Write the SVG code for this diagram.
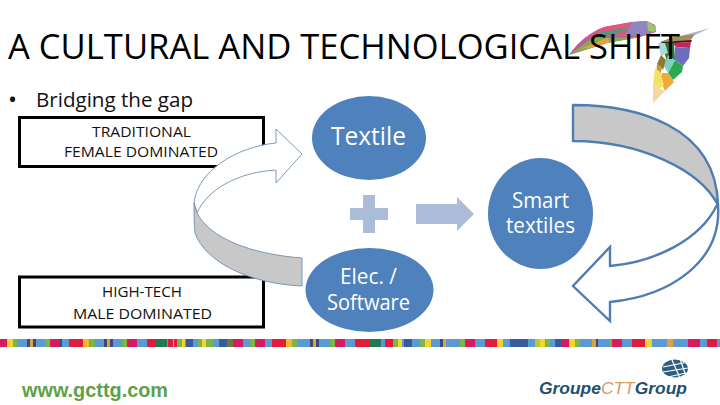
<svg xmlns="http://www.w3.org/2000/svg" width="720" height="405" viewBox="0 0 720 405">
<style>
text{font-family:"Open Sans","Noto Sans","Liberation Sans",sans-serif}
.box{fill:#fff;stroke:#000;stroke-width:3}
.bl{font-size:15px;fill:#111}
.circ{fill:#4f81bd}
.ct{font-size:21px;fill:#fff}
.band{fill:#c8c8c8;stroke-linejoin:round}
.ar{fill:#fff;stroke-linejoin:miter}
.thick{stroke:#4f7cb3;stroke-width:2.4}
.thin{stroke:#6f8fb0;stroke-width:.9}
.pale{fill:#abbcd8}
</style>
<rect width="720" height="405" fill="#fff"/>
<g id="swoosh">
<path d="M569 55C578 42 590 32 604 27L632 22 647 21 655 25 656 32 640 37 607 43Z" fill="#c25a9a"/>
<path d="M569 55L592 38 640 37 607 43Z" fill="#7fae4e"/>
<path d="M592 35L604 27 632 22 625 36Z" fill="#e0567f"/>
<path d="M632 22L647 21 656 27 650 35 625 36Z" fill="#8f86c0"/>
<path d="M647 21L656 27 655 32 648 31Z" fill="#9cc46a"/>
<path d="M580 49L607 38 610 42 590 48Z" fill="#e8a13c"/>
<path d="M597 33L625 28 627 31 600 37Z" fill="#4f9a7a"/>
<path d="M710 28L673 38 660 42 672 41 695 35Z" fill="#b7b3d2"/>
<path d="M660 42L673 37 695 34 690 41 672 41Z" fill="#a88c55"/>
<path d="M660 42L692 40 691 42 665 44Z" fill="#2c2a22"/>
<path d="M672 43L691 42 690 48 676 47Z" fill="#c7245e"/>
<path d="M675 47L690 48 689 58 683 66 675 60Z" fill="#6a6fc0"/>
<path d="M675 60L683 66 682 72 673 80 668 73Z" fill="#2ea84f"/>
<path d="M662 43L674 43 675 60 667 62Z" fill="#2f6e3d"/>
<path d="M658 43L665 43 668 53 661 56Z" fill="#a7dcd6"/>
<path d="M668 55L675 60 668 73 664 66Z" fill="#7fcfc4"/>
<path d="M661 55L666 60 663 70 657 64Z" fill="#8c7a34"/>
<path d="M657 64L662 67 660 76 656 74Z" fill="#c69a3b"/>
<path d="M662 73L668 73 674 82 665 91 660 80Z" fill="#f2a83a"/>
<path d="M655 68L660 72 664 85 660 89 653 85Z" fill="#f4e267"/>
<path d="M653 85L660 89 665 91 653 103Z" fill="#f6d7a0"/>
</g>
<g id="title">
<text x="8" y="59" font-size="35" fill="#000" textLength="672" lengthAdjust="spacingAndGlyphs">A CULTURAL AND TECHNOLOGICAL SHIFT</text>
</g>
<g id="bullet">
<text x="8" y="108" font-size="24" fill="#111">•</text>
<text x="36" y="107" font-size="20.500" fill="#111" textLength="157" lengthAdjust="spacingAndGlyphs">Bridging the gap</text>
</g>
<g id="node-traditional">
<rect class="box" x="19.500" y="117.500" width="244" height="49"/>
<text class="bl" x="92" y="137" textLength="99" lengthAdjust="spacingAndGlyphs">TRADITIONAL</text>
<text class="bl" x="64" y="157" textLength="154" lengthAdjust="spacingAndGlyphs">FEMALE DOMINATED</text>
</g>
<g id="node-hightech">
<rect class="box" x="19.500" y="277" width="244" height="50"/>
<text class="bl" x="102" y="297" textLength="80" lengthAdjust="spacingAndGlyphs">HIGH-TECH</text>
<text class="bl" x="73" y="319" textLength="139" lengthAdjust="spacingAndGlyphs">MALE DOMINATED</text>
</g>
<g id="node-textile">
<ellipse class="circ" cx="369" cy="138" rx="57" ry="42"/>
<text class="ct" x="331" y="145" style="font-size:25px" textLength="75" lengthAdjust="spacingAndGlyphs">Textile</text>
</g>
<g id="node-elec">
<ellipse class="circ" cx="369.500" cy="290" rx="64" ry="42"/>
<text class="ct" x="340" y="284" textLength="57" lengthAdjust="spacingAndGlyphs">Elec. /</text>
<text class="ct" x="327" y="310" textLength="83" lengthAdjust="spacingAndGlyphs">Software</text>
</g>
<g id="node-smart">
<ellipse class="circ" cx="540.500" cy="213.500" rx="52.500" ry="55.500"/>
<text class="ct" x="512" y="208" textLength="57" lengthAdjust="spacingAndGlyphs">Smart</text>
<text class="ct" x="506" y="233" textLength="69" lengthAdjust="spacingAndGlyphs">textiles</text>
</g>
<g id="connectors">
<path class="pale" d="M363 195H375V208H388V220H375V233H363V220H350V208H363Z"/>
<path class="pale" d="M416 204H457V197L474 214 457 231V224H416Z"/>
<path class="ar thin" d="M194 203C197 172 235 147 276 143V129L302 154 276 183V170C240 172 208 188 197 213Z"/>
<path class="band thin" d="M194 203C194 213 194 225 195 233 205 262 250 284 302 286V258C250 254 210 238 197 213Z"/>
<path class="ar thick" d="M717 205C700 240 655 262 610 266V247L573 286 610 321V302C670 296 722 262 718 205Z"/>
<path class="band thick" d="M573 105C635 105 716 125 718 205 700 170 640 141 573 141Z"/>
</g>
<g id="strip">
<rect x="0" y="339" width="720" height="8" fill="#5b9bd5"/>
<g id="strip-a">
<rect x="0" y="339" width="7" height="8" fill="#d81b60"/><rect x="7" y="339" width="6" height="8" fill="#f6d32d"/><rect x="13" y="339" width="4" height="8" fill="#7ab648"/><rect x="27" y="339" width="3" height="8" fill="#3a4a7a"/><rect x="30" y="339" width="3" height="8" fill="#e0a040"/><rect x="33" y="339" width="3" height="8" fill="#3a4a7a"/><rect x="45" y="339" width="5" height="8" fill="#7ab648"/><rect x="50" y="339" width="10" height="8" fill="#d81b60"/><rect x="60" y="339" width="2" height="8" fill="#3a4a7a"/><rect x="69" y="339" width="14" height="8" fill="#e01b3c"/><rect x="83" y="339" width="6" height="8" fill="#f6b82d"/><rect x="90" y="339" width="5" height="8" fill="#7ab648"/><rect x="104" y="339" width="3" height="8" fill="#3a4a7a"/><rect x="107" y="339" width="3" height="8" fill="#e0a040"/><rect x="110" y="339" width="3" height="8" fill="#3a4a7a"/><rect x="122" y="339" width="5" height="8" fill="#7ab648"/><rect x="127" y="339" width="10" height="8" fill="#d81b60"/><rect x="147" y="339" width="8" height="8" fill="#e01b3c"/><rect x="155" y="339" width="12" height="8" fill="#1f7a4d"/><rect x="168" y="339" width="5" height="8" fill="#e01b3c"/><rect x="173" y="339" width="1" height="8" fill="#f6b82d"/><rect x="174" y="339" width="3" height="8" fill="#e01b3c"/><rect x="177" y="339" width="5" height="8" fill="#7ab648"/><rect x="182" y="339" width="3" height="8" fill="#f6d32d"/><rect x="186" y="339" width="7" height="8" fill="#3a5aa0"/><rect x="198" y="339" width="4" height="8" fill="#7ab648"/><rect x="202" y="339" width="4" height="8" fill="#f6d32d"/><rect x="206" y="339" width="7" height="8" fill="#7ab648"/><rect x="219" y="339" width="8" height="8" fill="#3a5aa0"/><rect x="227" y="339" width="6" height="8" fill="#6a7a3a"/><rect x="233" y="339" width="10" height="8" fill="#d81b60"/>
</g>
<g id="strip-b">
<rect x="250" y="339" width="5" height="8" fill="#7ab648"/><rect x="255" y="339" width="10" height="8" fill="#d81b60"/><rect x="272" y="339" width="14" height="8" fill="#e01b3c"/><rect x="286" y="339" width="6" height="8" fill="#f6b82d"/><rect x="292" y="339" width="5" height="8" fill="#7ab648"/><rect x="310" y="339" width="3" height="8" fill="#3a4a7a"/><rect x="313" y="339" width="3" height="8" fill="#e0a040"/><rect x="316" y="339" width="3" height="8" fill="#3a4a7a"/><rect x="330" y="339" width="5" height="8" fill="#7ab648"/><rect x="335" y="339" width="10" height="8" fill="#d81b60"/><rect x="355" y="339" width="14" height="8" fill="#e01b3c"/><rect x="369" y="339" width="12" height="8" fill="#1f7a4d"/><rect x="385" y="339" width="8" height="8" fill="#e01b3c"/><rect x="393" y="339" width="5" height="8" fill="#7ab648"/><rect x="398" y="339" width="4" height="8" fill="#f6d32d"/><rect x="404" y="339" width="8" height="8" fill="#3a5aa0"/><rect x="420" y="339" width="5" height="8" fill="#7ab648"/><rect x="425" y="339" width="6" height="8" fill="#f6d32d"/><rect x="440" y="339" width="3" height="8" fill="#3a4a7a"/><rect x="443" y="339" width="3" height="8" fill="#e0a040"/><rect x="460" y="339" width="5" height="8" fill="#7ab648"/><rect x="465" y="339" width="10" height="8" fill="#d81b60"/><rect x="485" y="339" width="12" height="8" fill="#e01b3c"/><rect x="497" y="339" width="6" height="8" fill="#f6d32d"/><rect x="510" y="339" width="10" height="8" fill="#3a5aa0"/>
</g>
<g id="strip-c">
<rect x="520" y="339" width="8" height="8" fill="#3a5aa0"/><rect x="535" y="339" width="5" height="8" fill="#b8c83a"/><rect x="540" y="339" width="5" height="8" fill="#f6d32d"/><rect x="546" y="339" width="4" height="8" fill="#7ab648"/><rect x="555" y="339" width="7" height="8" fill="#3a5aa0"/><rect x="562" y="339" width="7" height="8" fill="#d81b60"/><rect x="569" y="339" width="6" height="8" fill="#f6d32d"/><rect x="575" y="339" width="5" height="8" fill="#7ab648"/><rect x="592" y="339" width="4" height="8" fill="#e0a040"/><rect x="596" y="339" width="2" height="8" fill="#3a4a7a"/><rect x="610" y="339" width="3" height="8" fill="#7ab648"/><rect x="612" y="339" width="10" height="8" fill="#d81b60"/><rect x="632" y="339" width="13" height="8" fill="#e01b3c"/><rect x="645" y="339" width="7" height="8" fill="#f6d32d"/><rect x="667" y="339" width="6" height="8" fill="#e0a040"/><rect x="688" y="339" width="12" height="8" fill="#d81b60"/><rect x="707" y="339" width="10" height="8" fill="#e01b3c"/>
</g>
</g>
<g id="url">
<text x="22" y="396.500" font-size="20" font-weight="700" fill="#5fa14a" textLength="146" lengthAdjust="spacingAndGlyphs" style="font-family:'Liberation Sans',Arial,sans-serif">www.gcttg.com</text>
</g>
<g id="logo">
<ellipse cx="675" cy="368.500" rx="13" ry="9" fill="#2f5f80"/>
<path d="M663 367L688 362M663 372L688 368M668 377L686 373M672 360L680 378M680 359L686 376" stroke="#fff" stroke-width="1.200" fill="none"/>
<text x="539" y="393.500" font-size="16.500" font-weight="700" font-style="italic" fill="#24506f" textLength="148" lengthAdjust="spacingAndGlyphs" style="font-family:'Liberation Sans',Arial,sans-serif">Groupe<tspan fill="#d99a5f" font-weight="400">CTT</tspan>Group</text>
</g>
</svg>
